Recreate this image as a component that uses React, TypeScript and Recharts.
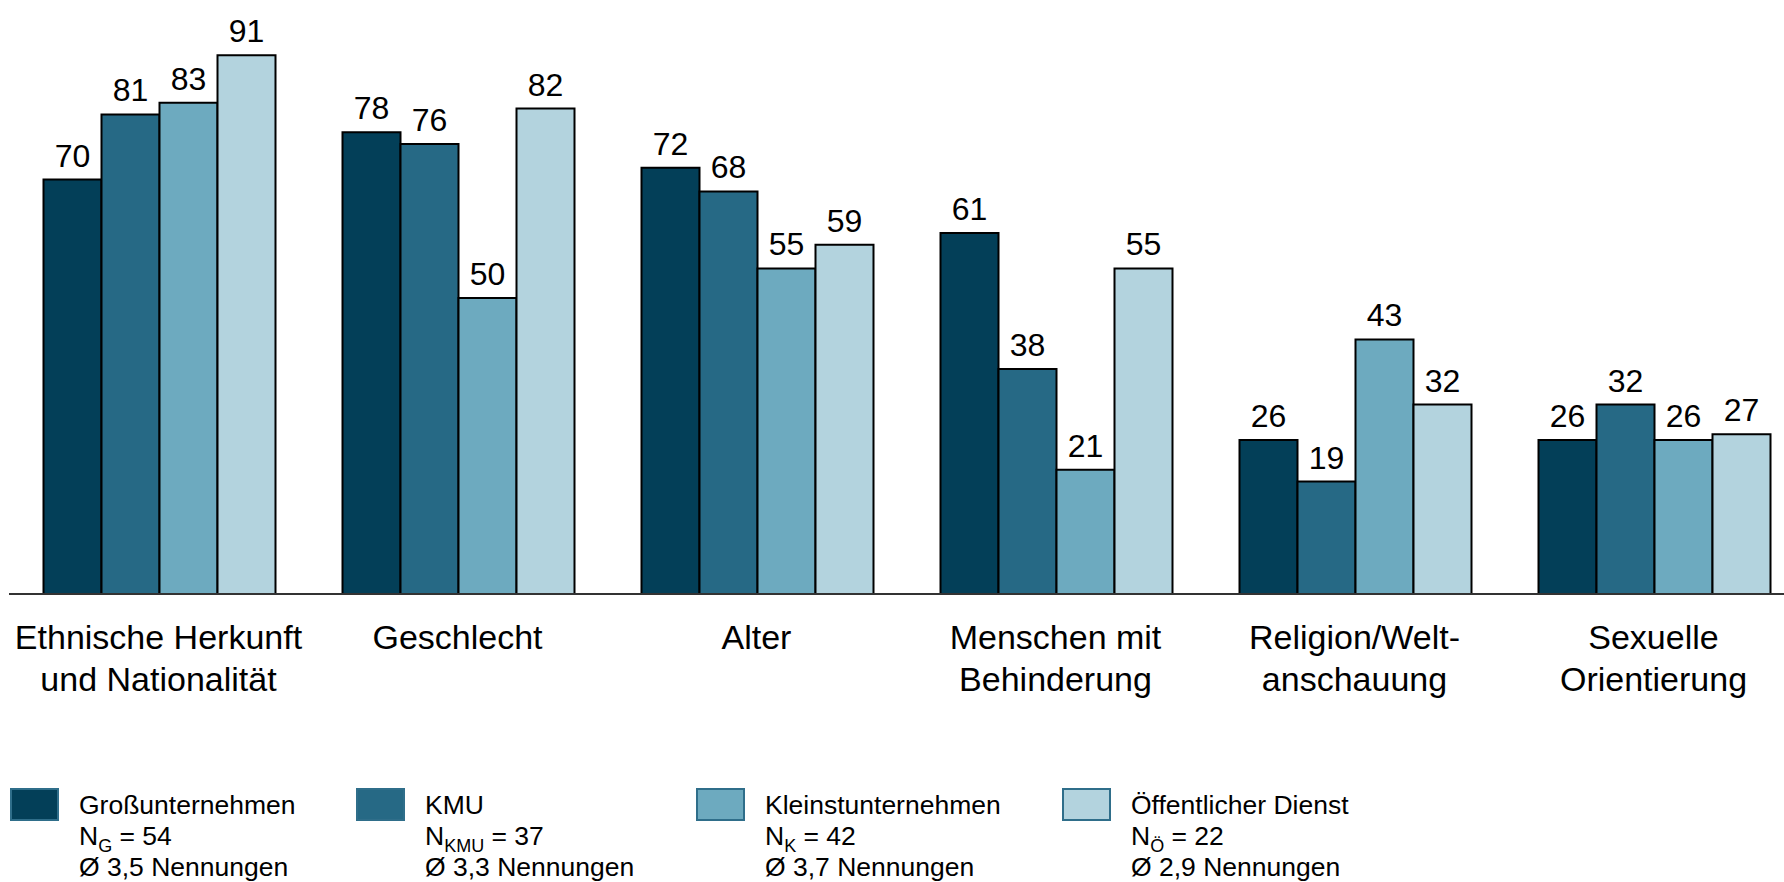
import React from 'react';
import { BarChart, Bar, XAxis, YAxis, LabelList } from 'recharts';

const categories = [
  'Ethnische Herkunft\nund Nationalität',
  'Geschlecht',
  'Alter',
  'Menschen mit\nBehinderung',
  'Religion/Welt-\nanschauung',
  'Sexuelle\nOrientierung',
];
const grossunternehmen = [70, 78, 72, 61, 26, 26];
const kmu = [81, 76, 68, 38, 19, 32];
const kleinstunternehmen = [83, 50, 55, 21, 43, 26];
const oeffentlicherDienst = [91, 82, 59, 55, 32, 27];

const seriesKeys = ['gross', 'kmu', 'klein', 'oeff'];
const seriesNames = ['Großunternehmen', 'KMU', 'Kleinstunternehmen', 'Öffentlicher Dienst'];
const seriesColors = ['#033F58', '#266985', '#6DAABF', '#B3D3DE'];
const legendSub = ['G', 'KMU', 'K', 'Ö'];
const legendN = [54, 37, 42, 22];
const legendAvg = ['3,5', '3,3', '3,7', '2,9'];

const data = categories.map((c, i) => ({
  name: c,
  gross: grossunternehmen[i],
  kmu: kmu[i],
  klein: kleinstunternehmen[i],
  oeff: oeffentlicherDienst[i],
}));

const FONT = '"Liberation Sans", Arial, Helvetica, sans-serif';
const legendX = [11, 357, 697, 1063];

const CatTick = (props: any) => {
  const { x, y, payload } = props;
  const lines = String(payload.value).split('\n');
  return (
    <text x={x} y={y} textAnchor="middle" fontSize={34} fill="#000" fontFamily={FONT}>
      {lines.map((l, i) => (
        <tspan key={i} x={x} y={y + 55 + i * 42}>
          {l}
        </tspan>
      ))}
    </text>
  );
};

export default function App() {
  return (
    <div
      style={{
        position: 'fixed',
        left: 0,
        top: 0,
        width: 1784,
        height: 882,
        overflow: 'hidden',
        background: '#fff',
        fontFamily: FONT,
      }}
    >
      <BarChart
        width={1803}
        height={730}
        data={data}
        margin={{ top: 2, right: 0, left: 9, bottom: 0 }}
        barCategoryGap={34.5}
        barGap={0}
      >
        <XAxis
          dataKey="name"
          height={136}
          interval={0}
          tickLine={false}
          tickSize={0}
          tickMargin={0}
          axisLine={{ stroke: '#333', strokeWidth: 2 }}
          tick={<CatTick />}
        />
        <YAxis hide domain={[0, 100]} />
        {seriesKeys.map((k, i) => (
          <Bar
            key={k}
            dataKey={k}
            name={seriesNames[i]}
            fill={seriesColors[i]}
            stroke="#000"
            strokeWidth={2}
            isAnimationActive={false}
          >
            <LabelList
              dataKey={k}
              position="top"
              offset={13}
              fontSize={32}
              fill="#000"
              fontFamily={FONT}
            />
          </Bar>
        ))}
      </BarChart>
      <svg
        width={1784}
        height={882}
        style={{ position: 'absolute', left: 0, top: 0, pointerEvents: 'none' }}
      >
        {seriesNames.map((n, i) => {
          const x = legendX[i];
          const tx = x + 68;
          return (
            <g key={n} fontFamily={FONT} fontSize={26.5} fill="#000">
              <rect x={x} y={789} width={47} height={31} fill={seriesColors[i]} stroke="#2F6E8A" strokeWidth={2} />
              <text x={tx} y={814}>{n}</text>
              <text x={tx} y={845}>
                N
                <tspan fontSize={18} dy={7}>{legendSub[i]}</tspan>
                <tspan dy={-7}>{` = ${legendN[i]}`}</tspan>
              </text>
              <text x={tx} y={876}>{`Ø ${legendAvg[i]} Nennungen`}</text>
            </g>
          );
        })}
      </svg>
    </div>
  );
}
